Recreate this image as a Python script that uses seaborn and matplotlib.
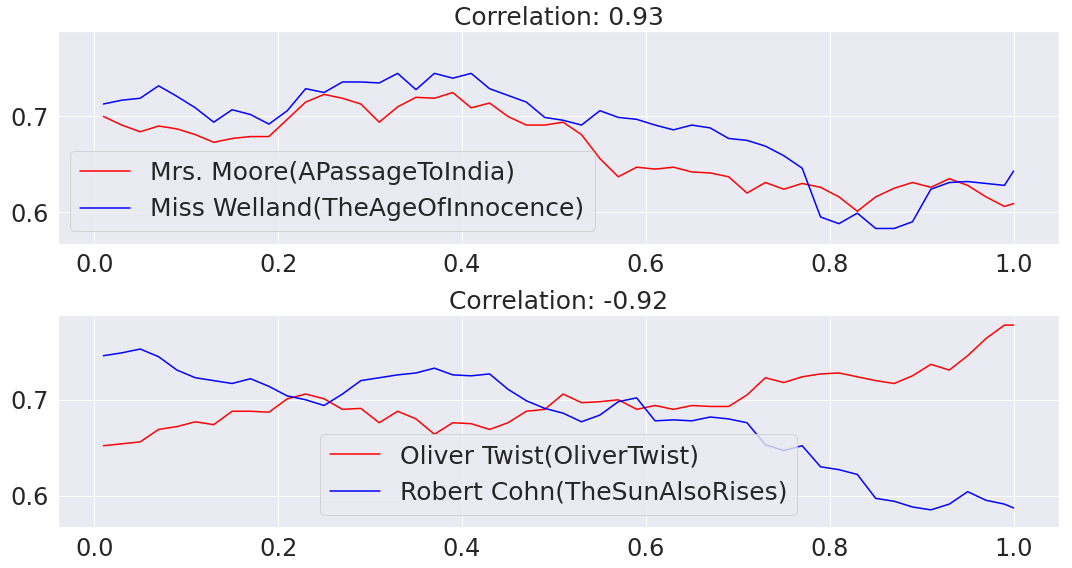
import pandas as pd
import seaborn as sns
import matplotlib.pyplot as plt

sns.set_theme(style="darkgrid", font_scale=2)
plt.rcParams["axes.titlesize"] = 25
plt.rcParams["legend.fontsize"] = 25
plt.rcParams["xtick.labelsize"] = 24
plt.rcParams["ytick.labelsize"] = 24

# relative position in the novel
x_pos = [0.01, 0.03, 0.05, 0.07, 0.09, 0.11, 0.13, 0.15, 0.17, 0.19,
         0.21, 0.23, 0.25, 0.27, 0.29, 0.31, 0.33, 0.35, 0.37, 0.39,
         0.41, 0.43, 0.45, 0.47, 0.49, 0.51, 0.53, 0.55, 0.57, 0.59,
         0.61, 0.63, 0.65, 0.67, 0.69, 0.71, 0.73, 0.75, 0.77, 0.79,
         0.81, 0.83, 0.85, 0.87, 0.89, 0.91, 0.93, 0.95, 0.97, 0.99, 1.00]

moore = [0.700, 0.691, 0.684, 0.690, 0.687, 0.681, 0.673, 0.677, 0.679, 0.679,
         0.697, 0.715, 0.723, 0.719, 0.713, 0.694, 0.710, 0.720, 0.719, 0.725,
         0.709, 0.714, 0.700, 0.691, 0.691, 0.694, 0.681, 0.656, 0.637, 0.647,
         0.645, 0.647, 0.642, 0.641, 0.637, 0.620, 0.631, 0.624, 0.630, 0.626,
         0.616, 0.601, 0.616, 0.625, 0.631, 0.626, 0.635, 0.628, 0.616, 0.606, 0.609]

welland = [0.713, 0.717, 0.719, 0.732, 0.721, 0.709, 0.694, 0.707, 0.702, 0.692,
           0.706, 0.729, 0.725, 0.736, 0.736, 0.735, 0.745, 0.728, 0.745, 0.740,
           0.745, 0.729, 0.722, 0.715, 0.699, 0.696, 0.691, 0.706, 0.699, 0.697,
           0.691, 0.686, 0.691, 0.688, 0.677, 0.675, 0.669, 0.659, 0.646, 0.595,
           0.588, 0.599, 0.583, 0.583, 0.590, 0.624, 0.631, 0.632, 0.630, 0.628, 0.643]

twist = [0.652, 0.654, 0.656, 0.669, 0.672, 0.677, 0.674, 0.688, 0.688, 0.687,
         0.701, 0.706, 0.701, 0.690, 0.691, 0.676, 0.688, 0.680, 0.664, 0.676,
         0.675, 0.669, 0.676, 0.688, 0.690, 0.706, 0.697, 0.698, 0.700, 0.690,
         0.694, 0.690, 0.694, 0.693, 0.693, 0.705, 0.723, 0.718, 0.724, 0.727,
         0.728, 0.724, 0.720, 0.717, 0.725, 0.737, 0.731, 0.746, 0.764, 0.778, 0.778]

cohn = [0.746, 0.749, 0.753, 0.745, 0.731, 0.723, 0.720, 0.717, 0.722, 0.714,
        0.704, 0.700, 0.694, 0.706, 0.720, 0.723, 0.726, 0.728, 0.733, 0.726,
        0.725, 0.727, 0.711, 0.699, 0.691, 0.686, 0.677, 0.684, 0.698, 0.702,
        0.678, 0.679, 0.678, 0.682, 0.680, 0.676, 0.653, 0.647, 0.652, 0.630,
        0.627, 0.622, 0.597, 0.594, 0.588, 0.585, 0.591, 0.604, 0.595, 0.591, 0.587]

df = pd.DataFrame({"pos": x_pos, "moore": moore, "welland": welland,
                   "twist": twist, "cohn": cohn})

fig, axes = plt.subplots(2, 1, figsize=(1072 / 72, 568 / 72), dpi=72, sharey=True)
fig.subplots_adjust(left=0.054, right=0.988, top=0.945, bottom=0.072, hspace=0.333)

ax = axes[0]
sns.lineplot(data=df, x="pos", y="moore", color="red", label="Mrs. Moore(APassageToIndia)", ax=ax)
sns.lineplot(data=df, x="pos", y="welland", color="blue", label="Miss Welland(TheAgeOfInnocence)", ax=ax)
ax.set_title("Correlation: 0.93")
ax.set_xlabel("")
ax.set_ylabel("")
ax.legend(loc="lower left")

ax = axes[1]
sns.lineplot(data=df, x="pos", y="twist", color="red", label="Oliver Twist(OliverTwist)", ax=ax)
sns.lineplot(data=df, x="pos", y="cohn", color="blue", label="Robert Cohn(TheSunAlsoRises)", ax=ax)
ax.set_title("Correlation: -0.92")
ax.set_xlabel("")
ax.set_ylabel("")
ax.legend(loc="lower center")

axes[0].set_ylim(0.567, 0.789)
axes[0].set_yticks([0.6, 0.7])

plt.savefig("out.png", dpi=72)
